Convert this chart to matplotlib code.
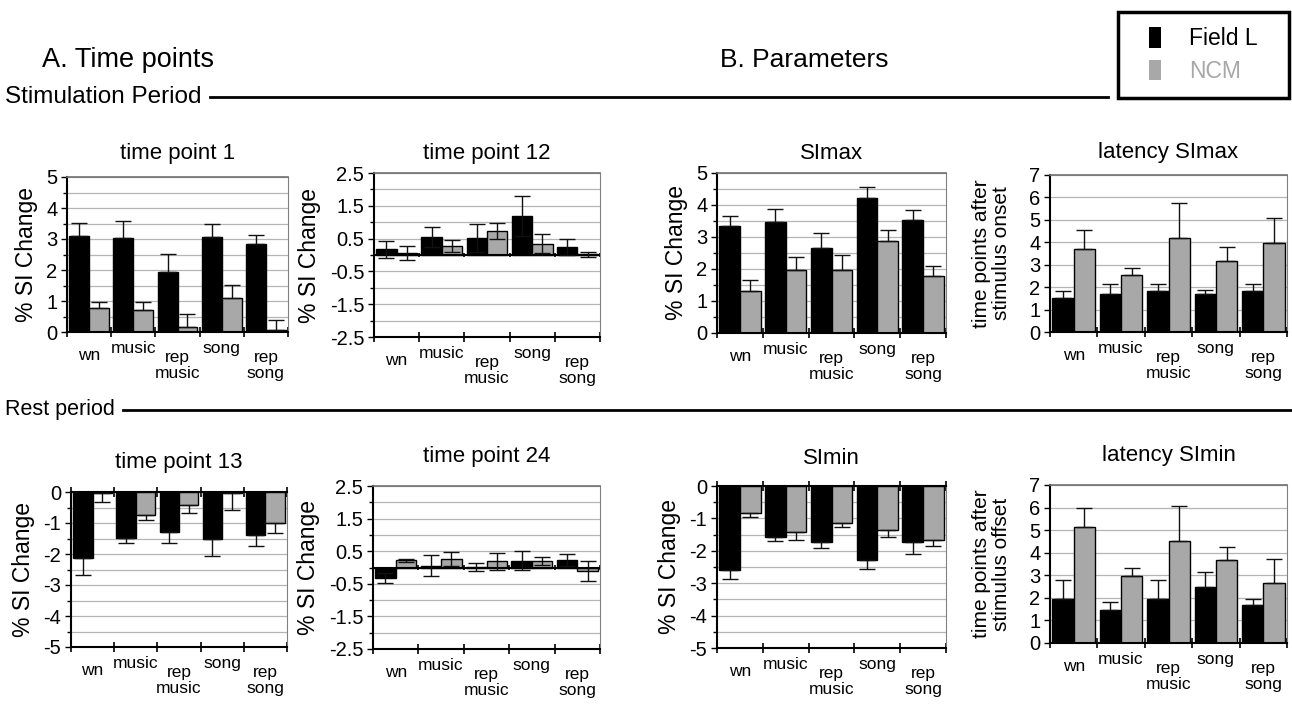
import matplotlib.pyplot as plt
import numpy as np
from matplotlib.lines import Line2D
from matplotlib.patches import Patch, Rectangle

plt.rcParams['font.family'] = ['Liberation Sans', 'DejaVu Sans']

W, H = 1292, 704

categories = ['wn', 'music', 'rep\nmusic', 'song', 'rep\nsong']
series_names = ['Field L', 'NCM']

# time point 1
tp1_field = [3.09, 3.04, 1.92, 3.07, 2.85]
tp1_field_err = [0.43, 0.55, 0.60, 0.40, 0.28]
tp1_ncm = [0.77, 0.70, 0.17, 1.11, 0.05]
tp1_ncm_err = [0.19, 0.27, 0.42, 0.41, 0.34]

# time point 12
tp12_field = [0.17, 0.55, 0.53, 1.19, 0.24]
tp12_field_err = [0.25, 0.31, 0.43, 0.61, 0.25]
tp12_ncm = [0.06, 0.28, 0.73, 0.35, 0.02]
tp12_ncm_err = [0.20, 0.19, 0.25, 0.30, 0.08]

# SImax
simax_field = [3.35, 3.48, 2.65, 4.21, 3.52]
simax_field_err = [0.32, 0.40, 0.48, 0.35, 0.32]
simax_ncm = [1.31, 1.97, 1.97, 2.88, 1.77]
simax_ncm_err = [0.35, 0.39, 0.46, 0.35, 0.31]

# latency SImax
lat_max_field = [1.50, 1.68, 1.83, 1.68, 1.83]
lat_max_field_err = [0.33, 0.48, 0.30, 0.18, 0.30]
lat_max_ncm = [3.68, 2.52, 4.17, 3.16, 3.99]
lat_max_ncm_err = [0.85, 0.33, 1.60, 0.61, 1.08]

# time point 13
tp13_field = [-2.12, -1.48, -1.30, -1.52, -1.40]
tp13_field_err = [0.55, 0.18, 0.36, 0.56, 0.34]
tp13_ncm = [-0.03, -0.74, -0.43, -0.02, -1.00]
tp13_ncm_err = [0.28, 0.16, 0.26, 0.57, 0.31]

# time point 24
tp24_field = [-0.32, 0.06, 0.02, 0.21, 0.23]
tp24_field_err = [0.16, 0.31, 0.13, 0.29, 0.17]
tp24_ncm = [0.22, 0.26, 0.19, 0.20, -0.10]
tp24_ncm_err = [0.05, 0.22, 0.27, 0.12, 0.30]

# SImin
simin_field = [-2.58, -1.56, -1.73, -2.28, -1.74]
simin_field_err = [0.28, 0.15, 0.19, 0.29, 0.36]
simin_ncm = [-0.82, -1.42, -1.14, -1.36, -1.67]
simin_ncm_err = [0.13, 0.25, 0.13, 0.20, 0.18]

# latency SImin
lat_min_field = [1.97, 1.48, 1.97, 2.49, 1.67]
lat_min_field_err = [0.81, 0.34, 0.81, 0.66, 0.30]
lat_min_ncm = [5.15, 2.99, 4.51, 3.67, 2.66]
lat_min_ncm_err = [0.84, 0.34, 1.56, 0.59, 1.07]

GRAY = '#a8a8a8'
label_drop = [16, 9, 18, 9, 18]  # px below axis, Excel-like stagger


def px_rect(left, top, right, bottom):
    return [left / W, 1 - bottom / H, (right - left) / W, (bottom - top) / H]


def one_sided(vals, errs):
    vals = np.array(vals)
    errs = np.array(errs)
    lower = np.where(vals < 0, errs, 0)
    upper = np.where(vals >= 0, errs, 0)
    return [lower, upper]


def draw_panel(ax, title, field, field_err, ncm, ncm_err, ylim, major, minor,
               ylabel, two_sided=False, title_pad=14, neg=False, ylab_size=16.5,
               ylab_pad=6):
    x = np.arange(len(categories))
    w = 0.45
    for vals, errs, col, off in [(field, field_err, 'black', -w / 2),
                                 (ncm, ncm_err, GRAY, w / 2)]:
        ax.bar(x + off, vals, w, color=col, edgecolor='black', lw=1, zorder=2)
        yerr = errs if two_sided else one_sided(vals, errs)
        ax.errorbar(x + off, vals, yerr=yerr, fmt='none', ecolor='#111111',
                    elinewidth=1, capsize=6, capthick=1, zorder=3)

    ax.set_xlim(-0.5, len(categories) - 0.5)
    ax.set_ylim(*ylim)
    ax.set_yticks(major)
    ax.set_yticklabels([f'{v:g}' for v in major], fontsize=14.5)
    ax.set_yticks(minor, minor=True)
    ax.grid(axis='y', which='both', color='#b5b5b5', lw=0.9, zorder=0)
    ax.set_axisbelow(True)

    bounds = np.arange(len(categories) + 1) - 0.5
    ax.set_xticks(bounds)
    ax.set_xticklabels([])
    ax.tick_params(axis='x', direction='inout', length=7, width=1.2,
                   top=neg)
    ax.tick_params(axis='y', which='major', direction='out', length=4, width=1,
                   pad=3)
    ax.tick_params(axis='y', which='minor', direction='out', length=3, width=1)

    for side in ['left', 'bottom']:
        ax.spines[side].set_color('black')
        ax.spines[side].set_linewidth(1.5)
    ax.spines['right'].set_color('#808080')
    ax.spines['top'].set_color('black' if neg else '#707070')
    ax.spines['top'].set_linewidth(1.5 if neg else 1.2)

    if two_sided:
        ax.axhline(0, color='black', lw=1.5, zorder=2.5)
        tick_h = (ylim[1] - ylim[0]) * 0.015
        ax.vlines(bounds, -tick_h, tick_h, color='black', lw=1.2, zorder=2.5)

    for i, lab in enumerate(categories):
        ax.annotate(lab, xy=(i, 0), xycoords=ax.get_xaxis_transform(),
                    xytext=(0, -label_drop[i] * 0.72), textcoords='offset points',
                    ha='center', va='top', fontsize=12.5, linespacing=1.1)

    ax.set_title(title, fontsize=16, pad=title_pad)
    ax.set_ylabel(ylabel, fontsize=ylab_size, linespacing=1.08, labelpad=ylab_pad)


fig = plt.figure(figsize=(W / 100, H / 100), dpi=100)

si = '% SI Change'
onset = 'time points after\nstimulus onset'
offset = 'time points after\nstimulus offset'
pos_major = [0, 1, 2, 3, 4, 5]
pos_minor = np.arange(0, 5.01, 0.5)
mid_major = [2.5, 1.5, 0.5, -0.5, -1.5, -2.5]
mid_minor = [2, 1, 0, -1, -2]
neg_major = [0, -1, -2, -3, -4, -5]
neg_minor = np.arange(-5, 0.01, 0.5)
lat_major = [0, 1, 2, 3, 4, 5, 6, 7]

ax1 = fig.add_axes(px_rect(67, 177, 288, 332))
draw_panel(ax1, 'time point 1', tp1_field, tp1_field_err, tp1_ncm, tp1_ncm_err,
           (0, 5), pos_major, pos_minor, si, title_pad=13)
ax2 = fig.add_axes(px_rect(374, 173, 600, 337))
draw_panel(ax2, 'time point 12', tp12_field, tp12_field_err, tp12_ncm, tp12_ncm_err,
           (-2.5, 2.5), mid_major, mid_minor, si, two_sided=True, title_pad=10)
ax3 = fig.add_axes(px_rect(717, 173, 946, 333))
draw_panel(ax3, 'SImax', simax_field, simax_field_err, simax_ncm, simax_ncm_err,
           (0, 5), pos_major, pos_minor, si, title_pad=10)
ax4 = fig.add_axes(px_rect(1050, 175, 1287, 332))
draw_panel(ax4, 'latency SImax', lat_max_field, lat_max_field_err, lat_max_ncm,
           lat_max_ncm_err, (0, 7), lat_major, [], onset, title_pad=12,
           ylab_size=15, ylab_pad=13)

ax5 = fig.add_axes(px_rect(71, 492, 287, 647))
draw_panel(ax5, 'time point 13', tp13_field, tp13_field_err, tp13_ncm, tp13_ncm_err,
           (-5, 0), neg_major, neg_minor, si, title_pad=17, neg=True)
ax6 = fig.add_axes(px_rect(373, 486, 600, 649))
draw_panel(ax6, 'time point 24', tp24_field, tp24_field_err, tp24_ncm, tp24_ncm_err,
           (-2.5, 2.5), mid_major, mid_minor, si, two_sided=True, title_pad=17)
ax7 = fig.add_axes(px_rect(717, 486, 946, 648))
draw_panel(ax7, 'SImin', simin_field, simin_field_err, simin_ncm, simin_ncm_err,
           (-5, 0), neg_major, neg_minor, si, title_pad=16, neg=True)
ax8 = fig.add_axes(px_rect(1050, 485, 1287, 643))
draw_panel(ax8, 'latency SImin', lat_min_field, lat_min_field_err, lat_min_ncm,
           lat_min_ncm_err, (0, 7), lat_major, [], offset, title_pad=17,
           ylab_size=15, ylab_pad=13)

# section headings and divider lines
fig.text(42 / W, 1 - 60 / H, 'A. Time points', fontsize=19.5, va='center')
fig.text(720 / W, 1 - 60 / H, 'B. Parameters', fontsize=19, va='center')
fig.text(5 / W, 1 - 97 / H, 'Stimulation Period', fontsize=17.5, va='center')
fig.add_artist(Line2D([210 / W, 1108 / W], [1 - 97 / H] * 2, color='black', lw=2))
fig.text(5 / W, 1 - 410 / H, 'Rest period', fontsize=15.5, va='center')
fig.add_artist(Line2D([123 / W, 1.0], [1 - 410 / H] * 2, color='black', lw=2))

# legend box
fig.add_artist(Rectangle((1118 / W, 1 - 98 / H), 171 / W, 86 / H,
                         transform=fig.transFigure, fill=False,
                         edgecolor='black', lw=2.5))
handles = [Patch(facecolor='black'), Patch(facecolor=GRAY)]
leg = fig.legend(handles, series_names, loc='center',
                 bbox_to_anchor=(1203 / W, 1 - 55 / H), frameon=False,
                 fontsize=16.5, handlelength=0.55, handleheight=1.0,
                 handletextpad=1.2, borderpad=0, borderaxespad=0,
                 labelspacing=0.4)
leg.get_texts()[1].set_color(GRAY)

fig.savefig('out.png', dpi=100)
